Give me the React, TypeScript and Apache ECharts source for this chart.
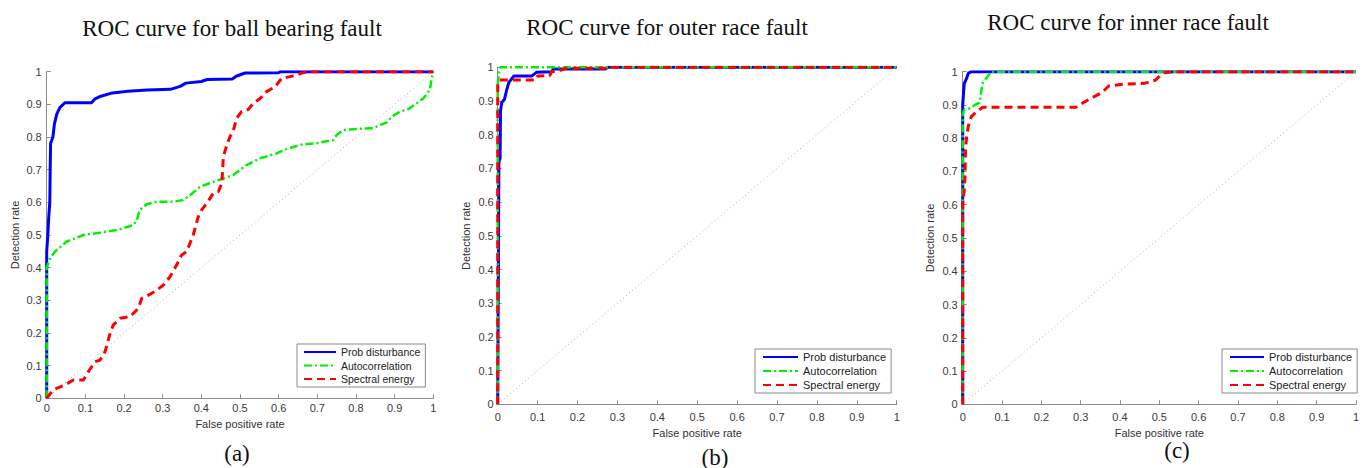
import React, { useEffect, useRef } from "react";
import * as echarts from "echarts";

// ---------- data ----------
const panelTitles = [
  "ROC curve for ball bearing fault",
  "ROC curve for outer race fault",
  "ROC curve for inner race fault",
];
const panelLetters = ["(a)", "(b)", "(c)"];
const seriesNames = ["Prob disturbance", "Autocorrelation", "Spectral energy"];
const xAxisName = "False positive rate";
const yAxisName = "Detection rate";

const chanceLine = [[0, 0], [1, 1]];

// (a) ball bearing fault
const aProb = [
  [0, 0], [0, 0.45], [0.003, 0.5], [0.005, 0.55], [0.008, 0.6], [0.009, 0.7], [0.01, 0.78],
  [0.016, 0.8], [0.02, 0.84], [0.026, 0.87], [0.034, 0.89], [0.047, 0.905], [0.116, 0.905],
  [0.125, 0.917], [0.14, 0.925], [0.17, 0.935], [0.21, 0.94], [0.26, 0.944], [0.32, 0.946],
  [0.345, 0.955], [0.36, 0.965], [0.4, 0.97], [0.415, 0.976], [0.48, 0.978], [0.49, 0.986],
  [0.513, 0.996], [0.6, 0.997], [0.605, 1], [1, 1],
];
const aAuto = [
  [0, 0], [0, 0.4], [0.009, 0.43], [0.022, 0.45], [0.052, 0.48], [0.095, 0.5], [0.138, 0.507],
  [0.181, 0.515], [0.224, 0.53], [0.233, 0.546], [0.241, 0.577], [0.259, 0.594], [0.284, 0.602],
  [0.328, 0.602], [0.353, 0.607], [0.371, 0.622], [0.397, 0.648], [0.431, 0.663], [0.457, 0.673],
  [0.483, 0.684], [0.517, 0.714], [0.552, 0.735], [0.595, 0.75], [0.612, 0.76], [0.655, 0.776],
  [0.698, 0.781], [0.741, 0.791], [0.75, 0.806], [0.767, 0.821], [0.793, 0.824], [0.845, 0.827],
  [0.862, 0.837], [0.879, 0.844], [0.892, 0.862], [0.914, 0.878], [0.935, 0.885], [0.957, 0.903],
  [0.974, 0.918], [0.991, 0.944], [0.998, 0.995], [1, 1],
];
const aSpec = [
  [0, 0], [0.017, 0.026], [0.047, 0.041], [0.069, 0.056], [0.095, 0.056], [0.108, 0.082],
  [0.125, 0.112], [0.138, 0.117], [0.151, 0.143], [0.164, 0.199], [0.172, 0.224], [0.19, 0.245],
  [0.216, 0.25], [0.237, 0.276], [0.246, 0.306], [0.263, 0.316], [0.28, 0.327], [0.302, 0.347],
  [0.319, 0.372], [0.336, 0.408], [0.349, 0.439], [0.362, 0.449], [0.379, 0.5], [0.392, 0.556],
  [0.401, 0.577], [0.414, 0.597], [0.431, 0.628], [0.444, 0.633], [0.453, 0.658], [0.457, 0.74],
  [0.466, 0.776], [0.474, 0.801], [0.483, 0.821], [0.491, 0.857], [0.504, 0.878], [0.522, 0.885],
  [0.534, 0.903], [0.552, 0.918], [0.569, 0.939], [0.591, 0.954], [0.608, 0.98], [0.629, 0.985],
  [0.647, 0.99], [0.664, 0.997], [0.677, 1], [1, 1],
];

// (b) outer race fault
const bProb = [
  [0, 0], [0.003, 0.72], [0.006, 0.73], [0.007, 0.87], [0.01, 0.895], [0.017, 0.905],
  [0.023, 0.935], [0.028, 0.955], [0.04, 0.974], [0.085, 0.974], [0.097, 0.985], [0.135, 0.987],
  [0.14, 0.995], [0.27, 0.995], [0.275, 1], [1, 1],
];
const bAuto = [[0, 0], [0, 0.95], [0.003, 0.98], [0.006, 1], [1, 1]];
const bSpec = [
  [0, 0], [0, 0.95], [0.004, 0.962], [0.095, 0.962], [0.1, 0.974], [0.13, 0.975],
  [0.135, 0.987], [0.16, 0.992], [0.17, 0.997], [0.28, 0.997], [0.285, 1], [1, 1],
];

// (c) inner race fault
const cProb = [
  [0, 0], [0, 0.9], [0.002, 0.935], [0.004, 0.965], [0.01, 0.98], [0.014, 0.995], [0.022, 1], [1, 1],
];
const cAuto = [
  [0, 0], [0, 0.87], [0.003, 0.885], [0.018, 0.89], [0.031, 0.9], [0.043, 0.907], [0.047, 0.94],
  [0.051, 0.967], [0.06, 0.98], [0.072, 1], [1, 1],
];
const cSpec = [
  [0, 0], [0, 0.6], [0.004, 0.645], [0.006, 0.685], [0.007, 0.765], [0.01, 0.805], [0.014, 0.835],
  [0.022, 0.865], [0.035, 0.88], [0.051, 0.893], [0.288, 0.893], [0.304, 0.905], [0.329, 0.922],
  [0.354, 0.937], [0.371, 0.957], [0.412, 0.963], [0.462, 0.965], [0.491, 0.975], [0.503, 0.99],
  [0.512, 0.997], [0.537, 1], [1, 1],
];

const panelData = [
  [aProb, aAuto, aSpec],
  [bProb, bAuto, bSpec],
  [cProb, cAuto, cSpec],
];

// ---------- layout / style ----------
const grids = [
  { left: 46.7, top: 71.7, width: 386.6, height: 326.6 },
  { left: 497.7, top: 67.3, width: 399, height: 337 },
  { left: 962.7, top: 71.7, width: 402, height: 332.6 },
];
const xLabelMargin = [4, 7, 7];
const xNameGap = [19, 20, 20];
const yLabelMargin = [5, 4, 5];
const yNameGap = [26, 26, 27];
const titlePos = [[232, 28], [667, 27], [1128, 22]];
const letterPos = [[237, 453], [715, 457], [1177, 450]];
const legendPos = [
  { left: 297, top: 344, itemWidth: 32, fontSize: 10.5, padding: [2.5, 5, 2.5, 6], itemGap: 2.5 },
  { left: 755, top: 349, itemWidth: 35, fontSize: 11, padding: [2.5, 5, 2.5, 7], itemGap: 3 },
  { left: 1222, top: 349, itemWidth: 34, fontSize: 11, padding: [2.5, 5, 2.5, 7], itemGap: 3 },
];

const lineStyles = [
  { color: "#0000ff", width: 3, type: "solid" as any },
  { color: "#00f000", width: 2.5, type: [8, 3, 2, 3] as any },
  { color: "#ff0000", width: 3, type: [8, 5] as any },
];

const SANS = "Liberation Sans, Arial, Helvetica, sans-serif";
const SERIF = "Liberation Serif, Times New Roman, serif";
const fmt = (v: number) => String(Math.round(v * 10) / 10);

export default function App() {
  const ref = useRef<HTMLDivElement>(null);

  useEffect(() => {
    if (!ref.current) return;
    const chart = echarts.init(ref.current, undefined, { renderer: "svg" });

    const xAxis: any[] = [];
    const yAxis: any[] = [];
    const series: any[] = [];
    const legend: any[] = [];
    const graphic: any[] = [];

    grids.forEach((g, i) => {
      xAxis.push({
        type: "value",
        gridIndex: i,
        min: 0,
        max: 1,
        interval: 0.1,
        name: xAxisName,
        nameLocation: "middle",
        nameGap: xNameGap[i],
        nameTextStyle: { fontFamily: SANS, fontSize: 11, color: "#333" },
        axisLine: { show: true, onZero: false, lineStyle: { color: "#8c8c8c", width: 1 } },
        axisTick: { show: true, inside: true, length: 4, lineStyle: { color: "#8c8c8c" } },
        axisLabel: { fontFamily: SANS, fontSize: 11, color: "#3a3a3a", margin: xLabelMargin[i], formatter: fmt },
        splitLine: { show: false },
      });
      yAxis.push({
        type: "value",
        gridIndex: i,
        min: 0,
        max: 1,
        interval: 0.1,
        name: yAxisName,
        nameLocation: "middle",
        nameGap: yNameGap[i],
        nameTextStyle: { fontFamily: SANS, fontSize: 11, color: "#333" },
        axisLine: { show: true, onZero: false, lineStyle: { color: "#8c8c8c", width: 1 } },
        axisTick: { show: true, inside: true, length: 4, lineStyle: { color: "#8c8c8c" } },
        axisLabel: { fontFamily: SANS, fontSize: 11, color: "#3a3a3a", margin: yLabelMargin[i], formatter: fmt },
        splitLine: { show: false },
      });
      series.push({
        type: "line",
        name: "chance",
        xAxisIndex: i,
        yAxisIndex: i,
        data: chanceLine,
        symbol: "none",
        silent: true,
        lineStyle: { color: "#b0b0b0", width: 1, type: [1, 3] },
        z: 1,
      });
      panelData[i].forEach((d, k) => {
        series.push({
          type: "line",
          name: seriesNames[k],
          xAxisIndex: i,
          yAxisIndex: i,
          data: d,
          symbol: "none",
          showSymbol: false,
          lineStyle: lineStyles[k],
          itemStyle: { color: lineStyles[k].color },
          z: 2 + k,
        });
      });
      const L = legendPos[i];
      legend.push({
        orient: "vertical",
        left: L.left,
        top: L.top,
        itemWidth: L.itemWidth,
        itemHeight: 13,
        itemGap: L.itemGap,
        padding: L.padding,
        borderColor: "#8a8a8a",
        borderWidth: 1,
        backgroundColor: "#ffffff",
        data: seriesNames,
        itemStyle: { color: "rgba(0,0,0,0)", borderWidth: 0, borderColor: "rgba(0,0,0,0)", opacity: 0 },
        textStyle: { fontFamily: SANS, fontSize: L.fontSize, color: "#222" },
        selectedMode: false,
      });
      graphic.push({
        type: "text",
        x: titlePos[i][0],
        y: titlePos[i][1],
        style: {
          text: panelTitles[i],
          font: `23px ${SERIF}`,
          fill: "#111",
          align: "center",
          verticalAlign: "middle",
        },
      });
      graphic.push({
        type: "text",
        x: letterPos[i][0],
        y: letterPos[i][1],
        style: {
          text: panelLetters[i],
          font: `23px ${SERIF}`,
          fill: "#111",
          align: "center",
          verticalAlign: "middle",
        },
      });
    });

    chart.setOption({
      animation: false,
      backgroundColor: "#ffffff",
      grid: grids.map((g) => ({ ...g, containLabel: false })),
      xAxis,
      yAxis,
      series,
      legend,
      graphic,
    });

    return () => chart.dispose();
  }, []);

  return (
    <div
      ref={ref}
      style={{ position: "fixed", left: 0, top: 0, width: 1362, height: 468, background: "#fff" }}
    />
  );
}
